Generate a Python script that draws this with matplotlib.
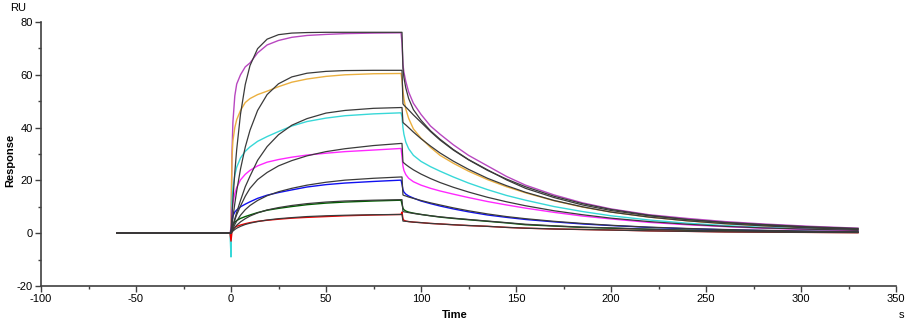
import matplotlib.pyplot as plt

# sensorgram time base (s): baseline, association, dissociation
t_base = [-60, -0.5]
t_assoc = [0, 0.5, 1, 2, 3, 5, 7.5, 10, 14, 19, 25, 32, 40, 50, 60, 75, 89.5]
t_dissoc = [90, 90.5, 91, 92, 93.5, 96, 100, 105, 110, 117, 125, 135, 145,
            155, 170, 185, 200, 220, 240, 260, 280, 305, 330]

# measured responses (RU), highest concentration first
purple = [2, 30, 42, 52, 56.5, 60, 63, 64.5, 68.3, 71.3, 73, 74.2, 74.9, 75.3, 75.6, 75.8, 75.9,
          72, 64, 61, 57.5, 53.5, 49.2, 45, 40.6, 37.5, 33.5, 29.5, 25.5, 21.5,
          18.2, 14.5, 11.5, 9.2, 7.0, 5.6, 4.4, 3.5, 2.6, 1.9]
orange = [1, 28, 35, 40, 43, 46.5, 49.5, 51, 52.5, 53.8, 55.5, 57.2, 58.4, 59.4, 60, 60.4, 60.5,
          58, 54, 51, 47, 43.5, 39.5, 36, 32.5, 29.5, 26.5, 23.5, 20.3, 17.6,
          15.3, 12.3, 9.9, 8.0, 6.1, 4.7, 3.6, 2.8, 2.0, 1.4]
cyan = [-9, 12, 17, 22, 25, 28.5, 31, 32.7, 34.8, 36.6, 38.5, 40.6, 42.3, 43.6, 44.5, 45.2, 45.6,
        44, 40, 37.5, 34.5, 32, 29.5, 27.2, 25.2, 23.5, 21.3, 19, 16.5, 14.3,
        12.5, 10.1, 8.2, 6.6, 5.0, 3.8, 2.9, 2.2, 1.6, 1.1]
magenta = [0, 8, 11.5, 15, 17.3, 20.2, 22.3, 23.8, 25.5, 26.9, 27.9, 28.8, 29.6, 30.3, 30.9, 31.5, 32.1,
           29, 25.5, 23.8, 22.2, 20.8, 19.5, 18.2, 17, 16, 14.8, 13.5, 12, 10.7,
           9.5, 7.9, 6.5, 5.4, 4.1, 3.2, 2.5, 1.9, 1.4, 1.0]
blue = [0, 4, 6.5, 8, 8.8, 10, 11, 11.9, 13.2, 14.4, 15.4, 16.4, 17.5, 18.4, 19.0, 19.6, 20.1,
        18.5, 16.5, 15.6, 14.8, 14.1, 13.3, 12.2, 11.2, 10.3, 9.2, 8.1, 6.9, 6.0,
        5.2, 4.3, 3.5, 2.9, 2.2, 1.7, 1.3, 1.0, 0.7, 0.5]
green = [0, 2, 3.2, 4.2, 4.8, 5.6, 6.3, 6.9, 7.8, 8.7, 9.4, 10.1, 10.8, 11.4, 11.8, 12.2, 12.5,
         11, 9.5, 8.9, 8.4, 8.0, 7.6, 7.1, 6.6, 6.1, 5.6, 5.1, 4.5, 3.9,
         3.2, 2.7, 2.2, 1.9, 1.5, 1.1, 0.9, 0.7, 0.5, 0.4]
red = [-3, 0.5, 1.5, 2.2, 2.6, 3.1, 3.6, 4.0, 4.5, 4.9, 5.3, 5.7, 6.0, 6.3, 6.6, 6.9, 7.1,
       8, 5.5, 4.9, 4.6, 4.4, 4.2, 4.0, 3.7, 3.5, 3.2, 2.9, 2.6, 2.2,
       1.9, 1.6, 1.4, 1.2, 0.9, 0.7, 0.5, 0.4, 0.3, 0.2]

# 1:1 kinetic fits (RU), same order
fit_purple = [0, 6.5, 12.5, 23, 31.7, 45.1, 56.3, 63.5, 69.9, 73.5, 75.2, 75.8, 76.0, 76.1, 76.1, 76.1, 76.1,
              76.1, 62.5, 59, 55, 51, 46.8, 42.8, 38.8, 35.6, 31.7, 27.9, 24, 20.2,
              17, 13.5, 10.7, 8.6, 6.6, 5.2, 4.1, 3.3, 2.4, 1.8]
fit_orange = [0, 3.0, 5.9, 11.2, 16.0, 24.3, 32.6, 39.0, 46.5, 52.5, 56.6, 59.2, 60.6, 61.3, 61.6, 61.7, 61.7,
              61.7, 49, 48.5, 47.8, 46.7, 44.8, 42, 38.5, 35.3, 31.5, 27.8, 23.8, 20.5,
              17.6, 14.0, 11.2, 9.0, 6.8, 5.2, 4.0, 3.1, 2.2, 1.6]
fit_cyan = [0, 1.4, 2.8, 5.4, 7.9, 12.4, 17.6, 21.6, 27.6, 32.8, 37.3, 40.9, 43.4, 45.5, 46.5, 47.3, 47.6,
            47.6, 42, 41.6, 41, 40, 38.3, 35.8, 33, 30.4, 27.3, 24.2, 20.8, 18,
            15.5, 12.4, 10, 8.0, 6.1, 4.7, 3.6, 2.8, 2.0, 1.4]
fit_magenta = [0, 1.5, 2.8, 5, 7, 10.3, 14, 17, 20.3, 23, 25.5, 27.5, 29.3, 30.9, 32, 33.2, 34,
               34, 27, 26.6, 26, 25.2, 24, 22.4, 20.7, 19.2, 17.4, 15.6, 13.6, 11.9,
               10.4, 8.5, 7, 5.7, 4.4, 3.4, 2.6, 2.0, 1.5, 1.1]
fit_blue = [0, 1, 1.8, 3.3, 4.6, 6.8, 8.9, 10.5, 12.4, 14.2, 15.7, 17, 18.2, 19.3, 20.1, 20.8, 21.3,
            21.3, 14.5, 14.3, 14.1, 13.7, 13.2, 12.4, 11.5, 10.7, 9.6, 8.5, 7.3, 6.3,
            5.5, 4.5, 3.7, 3.0, 2.3, 1.8, 1.4, 1.1, 0.8, 0.5]
fit_green = [0, 0.6, 1.2, 2.2, 3, 4.3, 5.5, 6.5, 7.7, 8.8, 9.7, 10.5, 11.2, 11.8, 12.2, 12.5, 12.7,
             12.7, 8.2, 8.1, 8.0, 7.8, 7.5, 7.1, 6.6, 6.2, 5.7, 5.2, 4.6, 4.0,
             3.4, 2.8, 2.3, 2.0, 1.5, 1.2, 0.9, 0.7, 0.5, 0.4]
fit_red = [0, 0.4, 0.8, 1.4, 1.9, 2.6, 3.3, 3.8, 4.4, 5, 5.5, 5.9, 6.3, 6.6, 6.8, 7.0, 7.1,
           7.1, 4.6, 4.55, 4.5, 4.4, 4.2, 4.0, 3.7, 3.5, 3.2, 2.9, 2.6, 2.2,
           1.9, 1.6, 1.4, 1.2, 0.9, 0.7, 0.5, 0.4, 0.3, 0.2]

curves = [purple, orange, cyan, magenta, blue, green, red]
fits = [fit_purple, fit_orange, fit_cyan, fit_magenta, fit_blue, fit_green, fit_red]
colors = ['#B847C0', '#EBB040', '#38D8D8', '#FF28FF', '#1010F0', '#006000', '#F00000']

t = t_base + t_assoc + t_dissoc

plt.rcParams['font.family'] = ['Liberation Sans', 'DejaVu Sans']
plt.rcParams['axes.unicode_minus'] = False
fig = plt.figure(figsize=(9.06, 3.22), dpi=100)
ax = fig.add_axes([41 / 906, 36 / 322, 855 / 906, 264 / 322])

for y, c in zip(curves, colors):
    ax.plot(t, [0, 0] + y, color=c, lw=1.0)
for y in fits:
    ax.plot(t, [0, 0] + y, color='#3A3A3A', lw=0.9)

ax.set_xlim(-100, 350)
ax.set_ylim(-20, 80)
ax.set_xticks(range(-100, 351, 50))
ax.set_xticks(range(-75, 350, 50), minor=True)
ax.set_yticks(range(-20, 81, 20))
ax.set_yticks(range(-10, 80, 20), minor=True)
ax.tick_params(axis='both', which='major', labelsize=8, length=4, width=1,
               color='#404040', direction='out', pad=2)
ax.tick_params(axis='both', which='minor', length=2, width=1, color='#404040')

for side in ['top', 'right']:
    ax.spines[side].set_visible(False)
for side in ['left', 'bottom']:
    ax.spines[side].set_color('#404040')
    ax.spines[side].set_linewidth(1.2)

# axis titles and units
fig.text(10 / 906, 1 - 160 / 322, 'Response', fontsize=8, fontweight='bold',
         rotation=90, ha='center', va='center')
fig.text(455 / 906, 1 - 315 / 322, 'Time', fontsize=8, fontweight='bold',
         ha='center', va='center')
fig.text(18 / 906, 1 - 8 / 322, 'RU', fontsize=8, ha='center', va='center')
fig.text(901 / 906, 1 - 315 / 322, 's', fontsize=8, ha='center', va='center')

fig.savefig('out.png', dpi=100)
